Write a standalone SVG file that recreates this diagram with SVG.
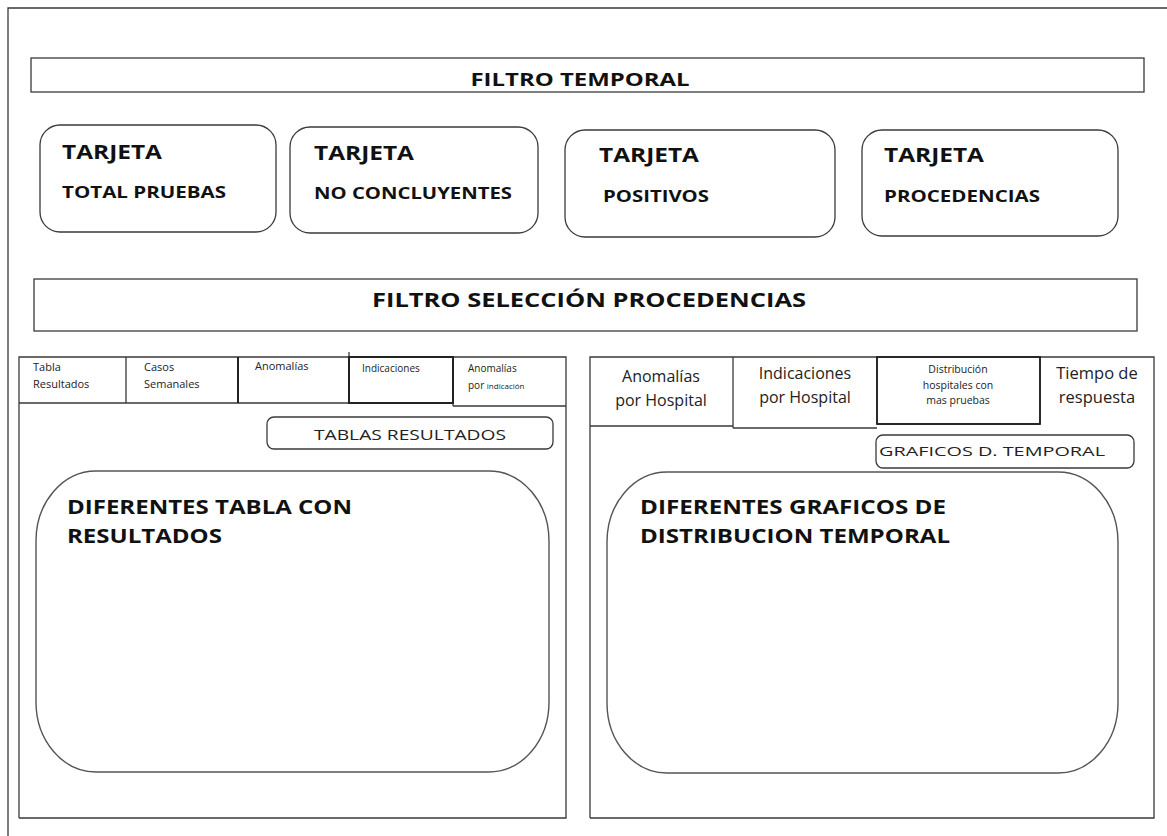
<svg xmlns="http://www.w3.org/2000/svg" width="1167" height="836" viewBox="0 0 1167 836">
<style>
.ln{fill:none;stroke:#3a3a3a;stroke-width:1.3}
.box{fill:#fff;stroke:#3a3a3a;stroke-width:1.3}
.big{fill:#fff;stroke:#555;stroke-width:1.4}
.b{font-family:"Open Sans","Liberation Sans",sans-serif;font-weight:bold;fill:#111}
.r{font-family:"Open Sans","Liberation Sans",sans-serif;fill:#222}
</style>
<rect width="1167" height="836" fill="#fff"/>
<g id="frame"><path class="ln" d="M8,836 V8 H1167"/></g>
<g id="filtro-temporal">
<rect class="box" x="31" y="58" width="1113" height="34"/>
<text class="b" x="580" y="86" font-size="17" text-anchor="middle" textLength="219" lengthAdjust="spacingAndGlyphs">FILTRO TEMPORAL</text>
</g>
<g id="tarjeta1">
<rect class="box" x="40" y="125" width="236" height="107" rx="20"/>
<text class="b" x="62" y="159" font-size="19" textLength="100" lengthAdjust="spacingAndGlyphs">TARJETA</text>
<text class="b" x="62" y="198" font-size="15.5" textLength="164" lengthAdjust="spacingAndGlyphs">TOTAL PRUEBAS</text>
</g>
<g id="tarjeta2">
<rect class="box" x="290" y="127" width="248" height="106" rx="20"/>
<text class="b" x="314" y="160" font-size="19" textLength="100" lengthAdjust="spacingAndGlyphs">TARJETA</text>
<text class="b" x="314" y="199" font-size="15.5" textLength="198" lengthAdjust="spacingAndGlyphs">NO CONCLUYENTES</text>
</g>
<g id="tarjeta3">
<rect class="box" x="565" y="130" width="270" height="107" rx="20"/>
<text class="b" x="599" y="162" font-size="19" textLength="100" lengthAdjust="spacingAndGlyphs">TARJETA</text>
<text class="b" x="603" y="202" font-size="15.5" textLength="106" lengthAdjust="spacingAndGlyphs">POSITIVOS</text>
</g>
<g id="tarjeta4">
<rect class="box" x="862" y="130" width="256" height="106" rx="20"/>
<text class="b" x="884" y="162" font-size="19" textLength="100" lengthAdjust="spacingAndGlyphs">TARJETA</text>
<text class="b" x="884" y="202" font-size="15.5" textLength="156" lengthAdjust="spacingAndGlyphs">PROCEDENCIAS</text>
</g>
<g id="filtro-procedencias">
<rect class="box" x="34" y="279" width="1103" height="52"/>
<text class="b" x="589" y="307" font-size="19" text-anchor="middle" textLength="434" lengthAdjust="spacingAndGlyphs">FILTRO SELECCIÓN PROCEDENCIAS</text>
</g>
<g id="panel-tablas">
<path class="ln" d="M19,818 V357 H566 V818 H19"/>
<path class="ln" d="M19,403 H453 M453,406 H566 M126,357 V403 M238,357 V403 M349,352 V403 M453,357 V406"/>
<rect x="349" y="357" width="104" height="46" fill="none" stroke="#222" stroke-width="2"/>
<path d="M238,357 V403" stroke="#222" stroke-width="2"/>
<text class="r" font-size="11"><tspan x="33" y="371">Tabla</tspan><tspan x="33" y="388">Resultados</tspan></text>
<text class="r" font-size="11"><tspan x="144" y="371">Casos</tspan><tspan x="144" y="388">Semanales</tspan></text>
<text class="r" x="255" y="370" font-size="11">Anomalías</text>
<text class="r" x="362" y="372" font-size="10">Indicaciones</text>
<text class="r" font-size="10"><tspan x="468" y="372">Anomalías</tspan><tspan x="468" y="389">por <tspan font-size="8">indicación</tspan></tspan></text>
</g>
<g id="tablas-resultados">
<rect class="box" x="267" y="417" width="286" height="32" rx="7"/>
<text class="r" x="410" y="440" font-size="15" text-anchor="middle" textLength="192" lengthAdjust="spacingAndGlyphs">TABLAS RESULTADOS</text>
</g>
<g id="diferentes-tabla">
<rect class="big" x="36" y="471" width="513" height="301" rx="60" ry="70"/>
<text class="b" x="67" y="514" font-size="20" textLength="285" lengthAdjust="spacingAndGlyphs">DIFERENTES TABLA CON</text>
<text class="b" x="67" y="543" font-size="20" textLength="155" lengthAdjust="spacingAndGlyphs">RESULTADOS</text>
</g>
<g id="panel-graficos">
<path class="ln" d="M590,818 V357 H1154 V818 H590"/>
<path class="ln" d="M590,426 H733 M733,428 H877 M877,424 H1040 M733,357 V428 M877,357 V424 M1040,357 V424"/>
<rect x="877" y="357" width="163" height="67" fill="none" stroke="#222" stroke-width="1.8"/>
<text class="r" font-size="16" text-anchor="middle"><tspan x="661" y="382">Anomalías</tspan><tspan x="661" y="406">por Hospital</tspan></text>
<text class="r" font-size="16" text-anchor="middle"><tspan x="805" y="379">Indicaciones</tspan><tspan x="805" y="403">por Hospital</tspan></text>
<text class="r" font-size="10.5" text-anchor="middle"><tspan x="958" y="373">Distribución</tspan><tspan x="958" y="389">hospitales con</tspan><tspan x="958" y="404">mas pruebas</tspan></text>
<text class="r" font-size="16.5" text-anchor="middle"><tspan x="1097" y="379">Tiempo de</tspan><tspan x="1097" y="403">respuesta</tspan></text>
</g>
<g id="graficos-temporal">
<rect class="box" x="876" y="435" width="258" height="33" rx="7"/>
<text class="r" x="879" y="456" font-size="13" textLength="226" lengthAdjust="spacingAndGlyphs">GRAFICOS D. TEMPORAL</text>
</g>
<g id="diferentes-graficos">
<rect class="big" x="607" y="472" width="511" height="301" rx="60" ry="70"/>
<text class="b" x="640" y="514" font-size="20" textLength="306" lengthAdjust="spacingAndGlyphs">DIFERENTES GRAFICOS DE</text>
<text class="b" x="640" y="543" font-size="20" textLength="310" lengthAdjust="spacingAndGlyphs">DISTRIBUCION TEMPORAL</text>
</g>
</svg>
